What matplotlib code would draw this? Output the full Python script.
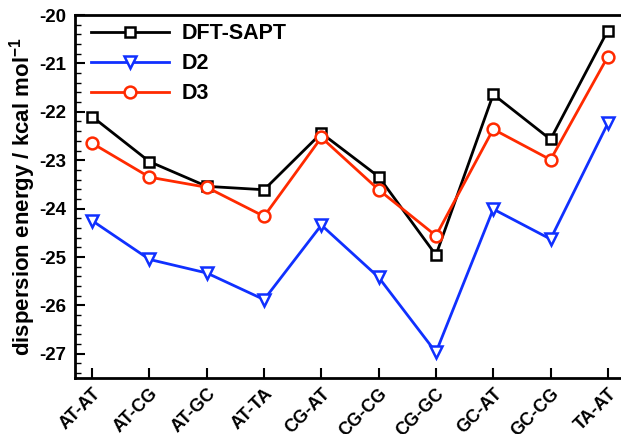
import matplotlib
matplotlib.use("Agg")
import matplotlib.pyplot as plt
from matplotlib.ticker import MultipleLocator
from matplotlib.transforms import ScaledTranslation

categories = ["AT-AT", "AT-CG", "AT-GC", "AT-TA", "CG-AT",
              "CG-CG", "CG-GC", "GC-AT", "GC-CG", "TA-AT"]
dft_sapt = [-22.10, -23.03, -23.54, -23.61, -22.44,
            -23.34, -24.96, -21.64, -22.57, -20.32]
d2 = [-24.25, -25.05, -25.33, -25.88, -24.34,
      -25.42, -26.97, -24.01, -24.63, -22.24]
d3 = [-22.65, -23.35, -23.56, -24.16, -22.53,
      -23.61, -24.56, -22.36, -22.99, -20.86]
yticks = [-27, -26, -25, -24, -23, -22, -21, -20]

plt.rcParams['font.family'] = ['Liberation Sans', 'DejaVu Sans']
plt.rcParams['font.weight'] = 'bold'
plt.rcParams['mathtext.fontset'] = 'custom'
plt.rcParams['mathtext.bf'] = 'Liberation Sans:bold'
plt.rcParams['mathtext.rm'] = 'Liberation Sans:bold'

fig = plt.figure(figsize=(6.21, 4.34), dpi=100)
ax = fig.add_axes([0.1208, 0.129, 0.8792, 0.8364])

x = list(range(len(categories)))
ax.plot(x, dft_sapt, color='black', lw=2, marker='s', ms=7.5,
        mfc='white', mec='black', mew=1.8, label='DFT-SAPT')
ax.plot(x, d2, color='#1030ff', lw=2, marker='v', ms=9,
        mfc='white', mec='#1030ff', mew=1.8, label='D2')
ax.plot(x, d3, color='#ff2a00', lw=2, marker='o', ms=8.5,
        mfc='white', mec='#ff2a00', mew=1.8, label='D3')

ax.set_xlim(-0.3, 9.23)
ax.set_ylim(-27.5, -20)
ax.yaxis.set_minor_locator(MultipleLocator(0.2))
ax.set_yticks(yticks)
ax.set_yticklabels([str(v) for v in yticks], fontsize=13.5, fontweight='bold')
ax.set_xticks(x)
ax.set_xticklabels(categories, rotation=45, ha='right', va='top',
                   rotation_mode='anchor', fontsize=13, fontweight='bold')
shift = ScaledTranslation(8 / 100, 0, fig.dpi_scale_trans)
for lbl in ax.get_xticklabels():
    lbl.set_transform(lbl.get_transform() + shift)

ax.tick_params(axis='both', which='major', direction='in', length=7, width=1.5)
ax.tick_params(axis='y', which='minor', direction='in', length=4, width=1)
ax.tick_params(axis='y', which='major', pad=6)
ax.tick_params(axis='x', which='major', pad=5)
for s in ax.spines.values():
    s.set_linewidth(2)
ax.spines['right'].set_visible(False)

ax.set_ylabel('dispersion energy / kcal mol$^{-1}$', fontsize=16,
              fontweight='bold', labelpad=1)

ax.legend(loc='upper left', bbox_to_anchor=(0.0, 1.022), frameon=False,
          handlelength=3.6, borderaxespad=0.35, labelspacing=0.42,
          handletextpad=0.6, prop={'weight': 'bold', 'size': 15.5})

fig.savefig('out.png', dpi=100)
